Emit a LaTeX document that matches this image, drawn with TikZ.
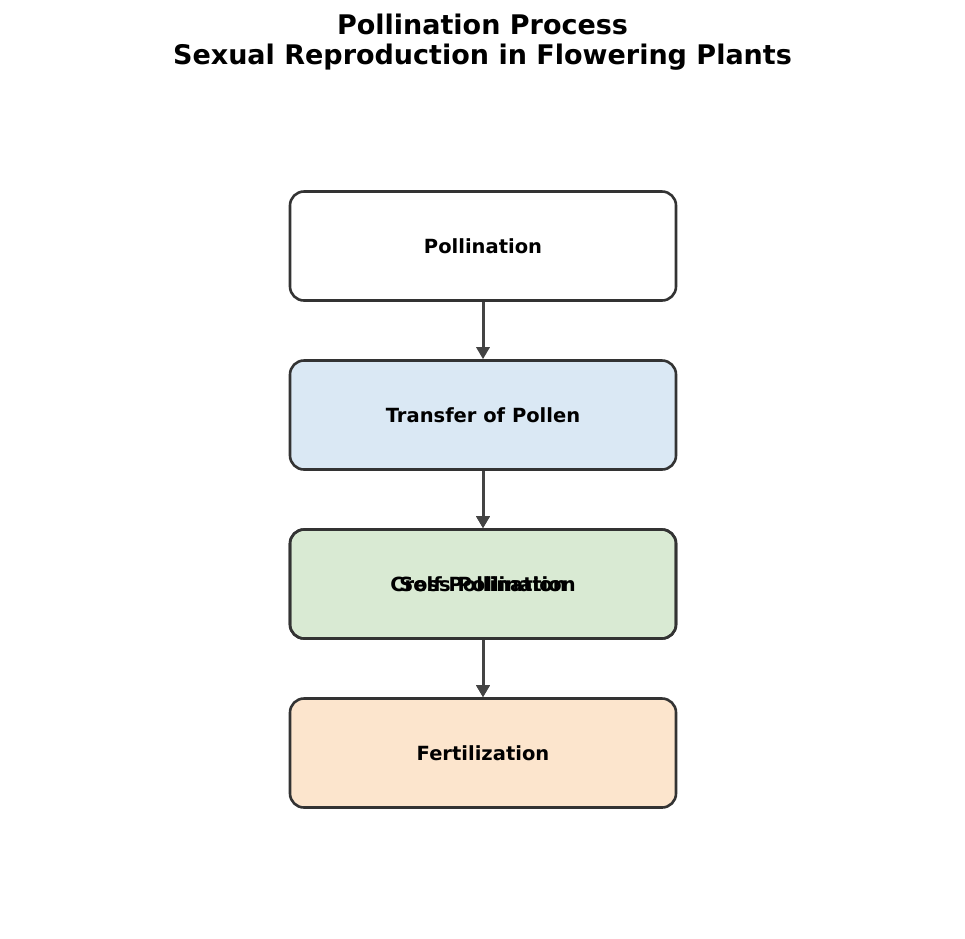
\documentclass[tikz,border=0pt]{standalone}
\usepackage{fontspec}
\setmainfont{DejaVu Sans}
\usetikzlibrary{arrows.meta}
\definecolor{ink}{HTML}{333333}
\definecolor{arrowgrey}{HTML}{444444}
\definecolor{skyfill}{HTML}{DAE8F4}
\definecolor{leaffill}{HTML}{D9EAD3}
\definecolor{peachfill}{HTML}{FCE5CD}

\begin{document}
\begin{tikzpicture}[x=1pt,y=1pt,
  stage/.style={draw=ink,line width=2.6pt,rounded corners=14pt,fill=white,
    minimum width=386pt,minimum height=109pt,inner sep=0pt,
    font=\fontsize{19.5}{23}\selectfont\bfseries},
  flow/.style={-{Triangle[length=12pt,width=13pt]},draw=arrowgrey,line width=3pt}]
  \useasboundingbox (0,0) rectangle (965,-938);
  % title
  \node[align=center,font=\fontsize{27}{30}\selectfont\bfseries] (title) at (482.5,-42)
    {Pollination Process\\Sexual Reproduction in Flowering Plants};
  % stages
  \node[stage] (poll) at (483,-246) {Pollination};
  \node[stage,fill=skyfill] (transfer) at (483,-415) {Transfer of Pollen};
  \node[stage,fill=leaffill] (self) at (483,-584) {Self Pollination};
  \node[stage,fill=none] (cross) at (483,-584) {Cross Pollination};
  \node[stage,fill=peachfill] (fert) at (483,-753) {Fertilization};
  % connectors
  \draw[flow] (poll) -- (transfer);
  \draw[flow] (transfer) -- (self);
  \draw[flow] (transfer) -- (cross);
  \draw[flow] (self) -- (fert);
  \draw[flow] (cross) -- (fert);
\end{tikzpicture}
\end{document}
